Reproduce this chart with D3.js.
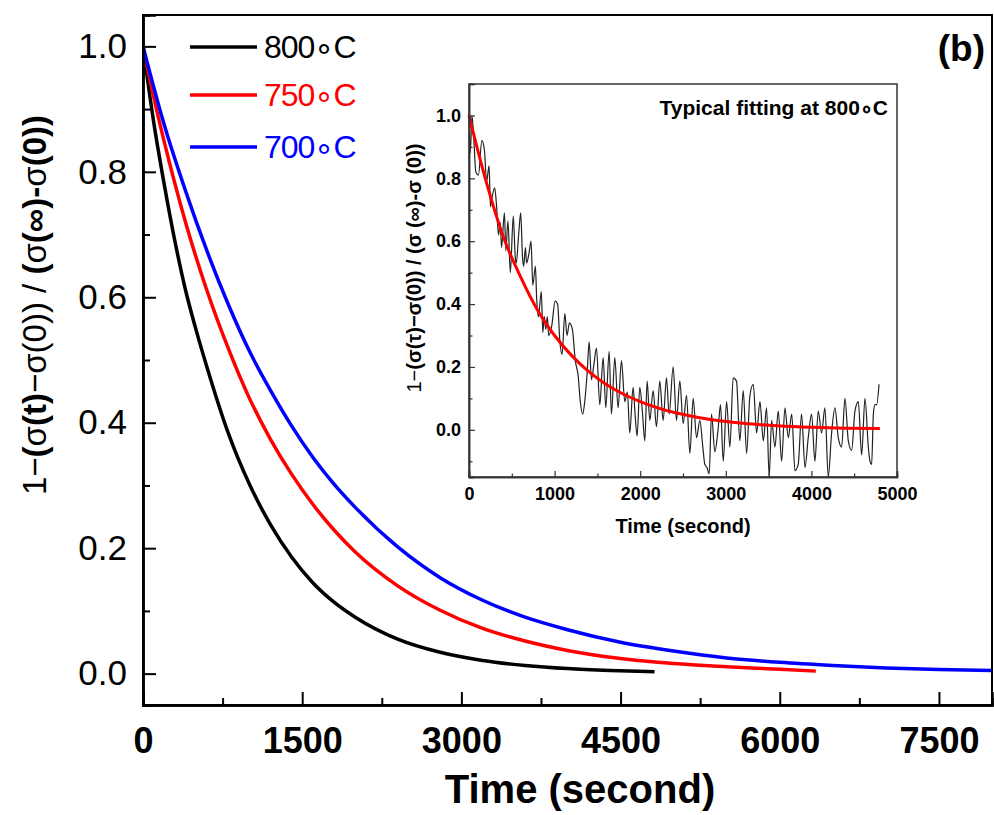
<!DOCTYPE html>
<html>
<head>
<meta charset="utf-8">
<script src="https://cdn.jsdelivr.net/npm/d3@7"></script>
<style>
  body { margin: 0; background: #fff; }
  svg { font-family: "Liberation Sans", Arial, sans-serif; }
</style>
</head>
<body>
<svg></svg>
<script>
// main curves (time in seconds, normalised value)
const time800 = [0, 100, 200, 300, 400, 500, 600, 800, 1000, 1200, 1400, 1600, 1800, 2000, 2400, 2800, 3200, 3600, 4000, 4400, 4820];
const val800  = [1.0, 0.88, 0.78, 0.69, 0.612, 0.548, 0.49, 0.385, 0.303, 0.238, 0.186, 0.145, 0.114, 0.09, 0.055, 0.034, 0.021, 0.013, 0.008, 0.005, 0.003];

const time750 = [0, 100, 200, 400, 600, 800, 1000, 1200, 1400, 1600, 1800, 2000, 2400, 2800, 3200, 3600, 4000, 4500, 5000, 5500, 6000, 6340];
const val750  = [1.0, 0.92, 0.848, 0.72, 0.612, 0.52, 0.44, 0.374, 0.318, 0.27, 0.229, 0.194, 0.14, 0.101, 0.072, 0.052, 0.037, 0.024, 0.016, 0.011, 0.007, 0.004];

const time700 = [0, 200, 400, 600, 800, 1000, 1200, 1400, 1600, 1800, 2000, 2400, 2800, 3200, 3600, 4000, 4500, 5000, 5500, 6000, 6500, 7000, 7500, 8000];
const val700  = [1.0, 0.875, 0.77, 0.675, 0.59, 0.515, 0.452, 0.395, 0.345, 0.302, 0.265, 0.202, 0.153, 0.117, 0.09, 0.07, 0.05, 0.036, 0.025, 0.018, 0.013, 0.009, 0.0065, 0.005];

const legendLabels = ["800\u2218C", "750\u2218C", "700\u2218C"];
const legendColors = ["#000000", "#ff0000", "#0000ff"];

// inset: measured trace at 800 C and its fit
const insetTime = [0,15,35,55,80,110,150,180,205,235,250,270,300,320,345,365,380,414,430,455,483,517,540,552,580,604,625,638,660,672,700,725,745,776,790,810,845,862,880,897,915,931,966,1007,1035,1062,1087,1120,1145,1173,1207,1242,1276,1300,1328,1352,1380,1404,
  1430,1460,1489,1528,1567,1598,1637,1664,1703,1742,1781,1820,1850,1878,1917,1940,1964,1995,2025,2054,2081,2112,2151,2190,2229,2268,2307,2338,2385,2424,2463,2502,2541,2580,2619,2658,2697,2730,2755,2780,2806,2833,2872,2911,2938,2970,
  3009,3048,3086,3125,3164,3204,3243,3282,3321,3360,3399,3438,3476,3507,3535,3574,3613,3652,3691,3730,3770,3808,3846,3885,3925,3963,4002,4041,4080,4119,4158,4197,4236,4275,4314,4353,4392,4431,4470,4509,4548,4587,4626,4665,4685,4704,4724,4743,4762,4790];
const insetSignal = [1.00,0.88,1.00,0.93,0.82,0.81,0.92,0.89,0.79,0.84,0.71,0.74,0.77,0.72,0.62,0.66,0.58,0.69,0.57,0.665,0.50,0.68,0.55,0.53,0.62,0.69,0.55,0.52,0.58,0.53,0.56,0.60,0.46,0.52,0.42,0.36,0.44,0.31,0.36,0.32,0.36,0.30,0.33,0.41,0.40,0.28,0.24,0.37,0.30,0.34,0.32,0.22,0.17,0.09,0.05,0.09,0.18,0.28,
  0.16,0.21,0.26,0.08,0.23,0.07,0.25,0.05,0.23,0.07,0.22,0.09,0.12,-0.01,0.135,0.05,-0.02,0.135,0.06,-0.035,0.155,0.03,0.125,0.01,0.155,0.03,0.165,0.05,0.20,0.03,0.155,0.02,0.11,-0.075,0.10,-0.025,0.03,-0.05,-0.11,-0.12,-0.14,0.05,-0.07,0.005,0.08,-0.10,
  0.09,-0.055,0.165,0.155,-0.035,0.125,-0.075,0.11,0.145,-0.01,0.09,-0.035,0.07,-0.15,0.03,-0.055,0.06,-0.10,0.07,-0.025,0.05,-0.13,-0.11,0.05,-0.12,-0.025,0.05,-0.10,0.06,-0.01,0.07,-0.15,-0.01,0.07,-0.025,-0.055,0.10,-0.035,-0.065,0.06,0.09,-0.08,0.10,-0.055,-0.10,-0.11,0.05,0.08,0.08,0.145];

const insetFitTime = [0, 200, 400, 600, 800, 1000, 1200, 1400, 1600, 1800, 2000, 2400, 2800, 3200, 3600, 4000, 4400, 4800];
const insetFit     = [1.0, 0.79, 0.615, 0.488, 0.381, 0.30, 0.236, 0.185, 0.145, 0.114, 0.09, 0.055, 0.034, 0.021, 0.013, 0.008, 0.005, 0.004];

const xTicks = [0, 1500, 3000, 4500, 6000, 7500];
const yTicks = [0, 0.2, 0.4, 0.6, 0.8, 1.0];
const insetXTicks = [0, 1000, 2000, 3000, 4000, 5000];
const insetYTicks = [0, 0.2, 0.4, 0.6, 0.8, 1.0];

const w = 994, h = 815;
const svg = d3.select("svg").attr("width", w).attr("height", h);

// main scales
const x = d3.scaleLinear().domain([0, 8000]).range([143, 992]);
const y = d3.scaleLinear().domain([-0.05, 1.05]).range([705, 15]);

svg.append("clipPath").attr("id", "mainClip")
  .append("rect").attr("x", 143).attr("y", 15).attr("width", 849).attr("height", 690);

const zip = (ts, vs) => ts.map((t, i) => [t, vs[i]]);
const line = d3.line().x(d => x(d[0])).y(d => y(d[1])).curve(d3.curveMonotoneX);

const series = [zip(time800, val800), zip(time750, val750), zip(time700, val700)];
series.forEach((s, i) => {
  svg.append("path").datum(s)
    .attr("d", line)
    .attr("fill", "none")
    .attr("stroke", legendColors[i])
    .attr("stroke-width", 3.5)
    .attr("clip-path", "url(#mainClip)");
});

// frame
svg.append("rect").attr("x", 143).attr("y", 15).attr("width", 849).attr("height", 690)
  .attr("fill", "none").attr("stroke", "#000").attr("stroke-width", 2);

// axes with inward ticks
const xAxis = svg.append("g").attr("transform", "translate(0,705)")
  .call(d3.axisBottom(x).tickValues(xTicks).tickSize(-13).tickPadding(22).tickFormat(d3.format("d")));
xAxis.selectAll("text").style("font-size", "36px").style("font-weight", "bold").attr("fill", "#000");
svg.append("g").attr("transform", "translate(0,705)")
  .call(d3.axisBottom(x).tickValues(d3.range(750, 8000, 1500)).tickSize(-7).tickFormat(""));

const yAxis = svg.append("g").attr("transform", "translate(143,0)")
  .call(d3.axisLeft(y).tickValues(yTicks).tickSize(-13).tickPadding(16).tickFormat(d3.format(".1f")));
yAxis.selectAll("text").style("font-size", "35px").attr("fill", "#000");
svg.append("g").attr("transform", "translate(143,0)")
  .call(d3.axisLeft(y).tickValues([0.1, 0.3, 0.5, 0.7, 0.9]).tickSize(-7).tickFormat(""));

svg.selectAll(".domain").attr("stroke-width", 2.5);
svg.selectAll(".tick line").attr("stroke-width", 2);

// axis titles
svg.append("text").attr("x", 580).attr("y", 803).attr("text-anchor", "middle")
  .style("font-size", "40px").style("font-weight", "bold").text("Time (second)");

const yl = svg.append("text").attr("transform", "translate(46,305) rotate(-90)")
  .attr("text-anchor", "middle").style("font-size", "33px");
[["1\u2212", "normal"], ["(", "bold"], ["\u03c3", "normal"], ["(t)", "bold"], ["\u2212\u03c3(0)) / ", "normal"],
 ["(", "bold"], ["\u03c3", "normal"], ["(\u221e)", "bold"], ["-", "bold"], ["\u03c3", "normal"], ["(0))", "bold"]]
  .forEach(p => yl.append("tspan").style("font-weight", p[1]).text(p[0]));

svg.append("text").attr("x", 985).attr("y", 61).attr("text-anchor", "end")
  .style("font-size", "37px").style("font-weight", "bold").text("(b)");

// legend
legendLabels.forEach((lab, i) => {
  const ly = [47, 95, 147][i];
  svg.append("line").attr("x1", 190).attr("x2", 257).attr("y1", ly).attr("y2", ly)
    .attr("stroke", legendColors[i]).attr("stroke-width", 3.5);
  svg.append("text").attr("x", 264).attr("y", ly + 11).style("font-size", "32px")
    .style("letter-spacing", "-1px")
    .attr("fill", legendColors[i]).text(lab);
});

// inset
const ix = d3.scaleLinear().domain([0, 5000]).range([469, 897]);
const iy = d3.scaleLinear().domain([-0.15, 1.1]).range([477, 84]);

svg.append("rect").attr("x", 469).attr("y", 84).attr("width", 428).attr("height", 393).attr("fill", "#fff");
svg.append("clipPath").attr("id", "insetClip")
  .append("rect").attr("x", 469).attr("y", 84).attr("width", 428).attr("height", 393);

svg.append("path").datum(zip(insetTime, insetSignal))
  .attr("d", d3.line().x(d => ix(d[0])).y(d => iy(d[1])).curve(d3.curveMonotoneX))
  .attr("fill", "none").attr("stroke", "#222").attr("stroke-width", 1.2)
  .attr("clip-path", "url(#insetClip)");
svg.append("path").datum(zip(insetFitTime, insetFit))
  .attr("d", d3.line().x(d => ix(d[0])).y(d => iy(d[1])).curve(d3.curveMonotoneX))
  .attr("fill", "none").attr("stroke", "#ff0000").attr("stroke-width", 3);

svg.append("rect").attr("x", 469).attr("y", 84).attr("width", 428).attr("height", 393)
  .attr("fill", "none").attr("stroke", "#333").attr("stroke-width", 1.5);

svg.append("g").attr("class", "inset").attr("transform", "translate(0,477)")
  .call(d3.axisBottom(ix).tickValues(insetXTicks).tickSize(-6).tickPadding(10).tickFormat(d3.format("d")));
svg.append("g").attr("class", "inset").attr("transform", "translate(0,477)")
  .call(d3.axisBottom(ix).tickValues([500, 1500, 2500, 3500, 4500]).tickSize(-3.5).tickFormat(""));
svg.append("g").attr("class", "inset").attr("transform", "translate(469,0)")
  .call(d3.axisLeft(iy).tickValues(insetYTicks).tickSize(-6).tickPadding(8).tickFormat(d3.format(".1f")));
svg.append("g").attr("class", "inset").attr("transform", "translate(469,0)")
  .call(d3.axisLeft(iy).tickValues([-0.1, 0.1, 0.3, 0.5, 0.7, 0.9]).tickSize(-3.5).tickFormat(""));
svg.selectAll(".inset .domain").attr("stroke", "#333").attr("stroke-width", 1.5);
svg.selectAll(".inset .tick line").attr("stroke", "#333").attr("stroke-width", 1.2);
svg.selectAll(".inset text").style("font-size", "18px").style("font-weight", "bold").attr("fill", "#000");

svg.append("text").attr("x", 683).attr("y", 533).attr("text-anchor", "middle")
  .style("font-size", "20px").style("font-weight", "bold").text("Time (second)");

const iyl = svg.append("text").attr("transform", "translate(421,268) rotate(-90)")
  .attr("text-anchor", "middle").style("font-size", "20px");
[["1\u2212", "normal"], ["(\u03c3(\u03c4)\u2212\u03c3(0)) / (\u03c3 (\u221e)-\u03c3 (0))", "bold"]]
  .forEach(p => iyl.append("tspan").style("font-weight", p[1]).text(p[0]));

svg.append("text").attr("x", 888).attr("y", 115).attr("text-anchor", "end")
  .style("font-size", "21px").style("font-weight", "bold")
  .text("Typical fitting at 800\u2218C");
</script>
</body>
</html>
